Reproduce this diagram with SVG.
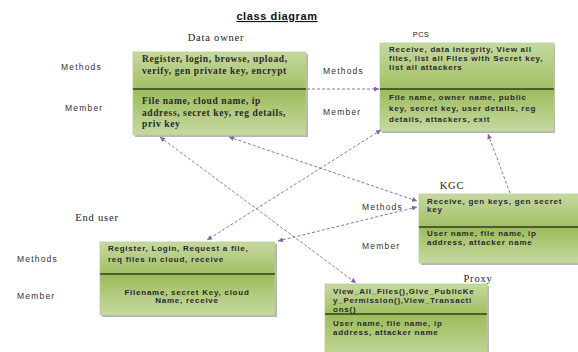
<svg xmlns="http://www.w3.org/2000/svg" width="578" height="352" viewBox="0 0 578 352">
<defs>
<linearGradient id="gTop" x1="0" y1="0" x2="0" y2="1">
<stop offset="0" stop-color="#c6d9a1"/><stop offset="1" stop-color="#a2bf63"/>
</linearGradient>
<linearGradient id="gBot" x1="0" y1="0" x2="0" y2="1">
<stop offset="0" stop-color="#9cbb5a"/><stop offset="1" stop-color="#c6d9a1"/>
</linearGradient>
<marker id="ah" viewBox="0 0 6 6" refX="6" refY="3" markerWidth="5" markerHeight="5" markerUnits="userSpaceOnUse" orient="auto-start-reverse">
<path d="M0,0 L6,3 L0,6 z" fill="#8064a2"/>
</marker>
<style>
.sh{fill:#7a7a7a;opacity:0.55}
.bt{fill:url(#gTop);stroke:#b9cd90;stroke-width:0.8}
.bb{fill:url(#gBot);stroke:#b9cd90;stroke-width:0.8}
.dv{stroke:#2f3a18;stroke-width:1.3}
.st{font-family:"Liberation Serif",serif;font-weight:bold;font-size:9.5px;letter-spacing:0.6px;fill:#2a2a2a}
.ss{font-family:"Liberation Sans",Arial,sans-serif;font-weight:bold;font-size:8px;letter-spacing:0.75px;fill:#2a2a2a}
.lb{font-family:"Liberation Sans",Arial,sans-serif;font-size:8.5px;letter-spacing:1.2px;fill:#333}
.nm{font-family:"Liberation Serif",serif;font-size:10.5px;letter-spacing:0.8px;fill:#222;text-anchor:middle}
.cn{fill:none;stroke:#8064a2;stroke-width:0.9;stroke-dasharray:3 2}
</style>
</defs>
<rect width="578" height="352" fill="#fff"/>
<text x="277" y="20" text-anchor="middle" font-family="Liberation Sans,Arial,sans-serif" font-weight="bold" font-size="11" letter-spacing="0.6" text-decoration="underline" fill="#111">class diagram</text>

<g id="labels">
<text class="lb" x="61" y="70">Methods</text>
<text class="lb" x="65" y="111">Member</text>
<text class="lb" x="323" y="74">Methods</text>
<text class="lb" x="323" y="115">Member</text>
<text class="lb" x="362" y="210">Methods</text>
<text class="lb" x="362" y="249">Member</text>
<text class="lb" x="17" y="262">Methods</text>
<text class="lb" x="17" y="299">Member</text>
</g>

<g id="data-owner">
<text class="nm" x="216" y="41">Data owner</text>
<rect class="sh" x="135" y="54" width="173" height="83"/>
<rect class="bt" x="133" y="52" width="173" height="37"/>
<rect class="bb" x="133" y="89" width="173" height="46"/>
<line class="dv" x1="133" y1="89" x2="306" y2="89"/>
<text class="st" x="142" y="62">Register, login, browse, upload,</text>
<text class="st" x="142" y="74">verify, gen private key, encrypt</text>
<text class="st" x="142" y="104">File name, cloud name, ip</text>
<text class="st" x="142" y="116">address, secret key, reg details,</text>
<text class="st" x="142" y="127">priv key</text>
</g>

<g id="pcs">
<text x="421" y="37" text-anchor="middle" font-family="Liberation Sans,Arial,sans-serif" font-size="7.5" letter-spacing="0.3" fill="#222">PCS</text>
<rect class="sh" x="382" y="45" width="173" height="88"/>
<rect class="bt" x="380" y="43" width="174" height="46"/>
<rect class="bb" x="380" y="89" width="174" height="42"/>
<line class="dv" x1="380" y1="89" x2="554" y2="89"/>
<text class="ss" x="389" y="52">Receive, data integrity, View all</text>
<text class="ss" x="389" y="61">files, list all Files with Secret key,</text>
<text class="ss" x="389" y="70">list all attackers</text>
<text class="ss" x="389" y="100">File name, owner name, public</text>
<text class="ss" x="389" y="111">key, secret key, user details, reg</text>
<text class="ss" x="389" y="122">details, attackers, exit</text>
</g>

<g id="kgc">
<text class="nm" x="452" y="189">KGC</text>
<rect class="sh" x="421" y="196" width="160" height="69"/>
<rect class="bt" x="419" y="194" width="160" height="33"/>
<rect class="bb" x="419" y="227" width="160" height="36"/>
<line class="dv" x1="419" y1="227" x2="578" y2="227"/>
<text class="ss" x="427" y="204">Receive, gen keys, gen secret</text>
<text class="ss" x="427" y="212">key</text>
<text class="ss" x="427" y="236">User name, file name, ip</text>
<text class="ss" x="427" y="245">address, attacker  name</text>
</g>

<g id="end-user">
<text class="nm" x="97" y="221">End user</text>
<rect class="sh" x="102" y="244" width="175" height="73"/>
<rect class="bt" x="100" y="242" width="175" height="32"/>
<rect class="bb" x="100" y="274" width="175" height="41"/>
<line class="dv" x1="100" y1="274" x2="275" y2="274"/>
<text class="ss" x="108" y="251">Register, Login, Request a file,</text>
<text class="ss" x="108" y="262">req files in cloud, receive</text>
<text class="ss" x="187" y="295" text-anchor="middle">Filename, secret Key, cloud</text>
<text class="ss" x="187" y="303" text-anchor="middle">Name, receive</text>
</g>

<g id="proxy">
<text class="nm" x="478" y="282">Proxy</text>
<rect class="sh" x="327" y="286" width="162" height="75"/>
<rect class="bt" x="325" y="284" width="162" height="30"/>
<rect class="bb" x="325" y="314" width="162" height="45"/>
<line class="dv" x1="325" y1="314" x2="487" y2="314"/>
<text class="ss" x="333" y="294">View_All_Files(),Give_PublicKe</text>
<text class="ss" x="333" y="303">y_Permission(),View_Transacti</text>
<text class="ss" x="333" y="312">ons()</text>
<text class="ss" x="333" y="326">User name, file name, ip</text>
<text class="ss" x="333" y="335">address, attacker  name</text>
</g>

<g id="connectors">
<line class="cn" x1="307" y1="89" x2="379" y2="89" marker-end="url(#ah)"/>
<line class="cn" x1="160" y1="137" x2="356" y2="283" marker-start="url(#ah)" marker-end="url(#ah)"/>
<line class="cn" x1="229" y1="137" x2="417" y2="201" marker-start="url(#ah)" marker-end="url(#ah)"/>
<line class="cn" x1="381" y1="130" x2="207" y2="240" marker-start="url(#ah)" marker-end="url(#ah)"/>
<line class="cn" x1="278" y1="241" x2="417" y2="207" marker-start="url(#ah)" marker-end="url(#ah)"/>
<line class="cn" x1="510" y1="193" x2="488" y2="134" marker-end="url(#ah)"/>
</g>
</svg>
